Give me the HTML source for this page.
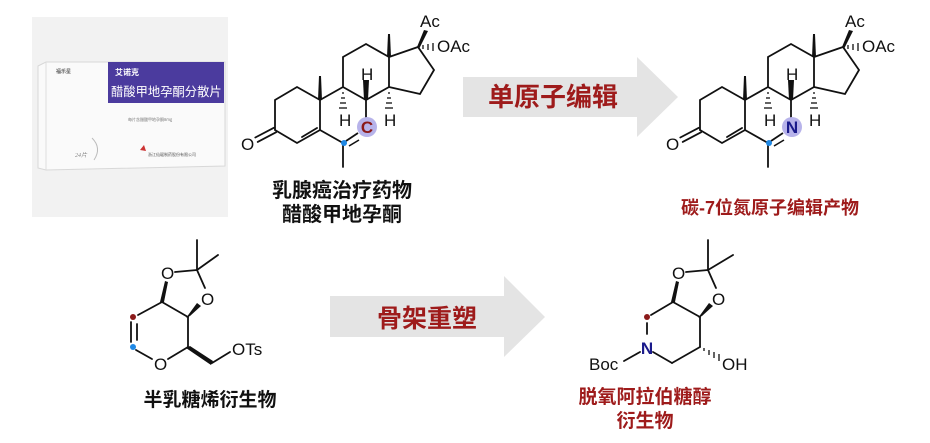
<!DOCTYPE html>
<html><head><meta charset="utf-8"><style>
html,body{margin:0;padding:0;background:#fff;}
svg{display:block;}
.cn{font-family:"Liberation Sans","Noto Sans CJK SC",sans-serif;font-weight:bold;}
.at{font-family:"Liberation Sans",sans-serif;font-size:17px;fill:#111;}
</style></head><body>
<svg width="930" height="443" viewBox="0 0 930 443" xmlns="http://www.w3.org/2000/svg">
<!-- package -->
<rect x="32" y="17" width="196" height="200" fill="#f2f2f2"/>
<polygon points="38,66 46,62 225,62 225,166 46,170 38,168" fill="#fafafa" stroke="#d8d8d8" stroke-width="1"/>
<line x1="46" y1="62" x2="46" y2="170" stroke="#ddd"/>
<rect x="108" y="62" width="116" height="41" fill="#4b3b9e"/>
<text x="115" y="75" class="cn" font-size="8" fill="#fff">艾诺克</text>
<text x="111" y="96" font-family="Liberation Sans,Noto Sans CJK SC,sans-serif" font-size="12.3" fill="#fff">醋酸甲地孕酮分散片</text>
<text x="56" y="73" class="cn" font-size="5" fill="#666">福乐星</text>
<text x="128" y="121" font-family="Noto Sans CJK SC,sans-serif" font-size="4" fill="#777">每片含醋酸甲地孕酮8mg</text>
<text x="75" y="157" font-family="Liberation Serif,serif" font-style="italic" font-size="6" fill="#888">24片</text>
<path d="M92,138 Q102,148 94,160" fill="none" stroke="#bbb" stroke-width="1"/>
<text x="148" y="156" font-family="Noto Sans CJK SC,sans-serif" font-size="4" fill="#555">浙江仙琚制药股份有限公司</text>
<path d="M140,150 l4,-5 l2,6z" fill="#c33"/>

<!-- steroid 1 -->
<g id="st" stroke="#111" stroke-width="1.8" fill="none" stroke-linecap="round">
<polyline points="275,130 275,100 297,87 320,100 343,87 366,100 389,87 389,57 366,44 343,57 343,87"/>
<polyline points="275,130 297,143 320,130 343,143"/>
<line x1="320" y1="100" x2="320" y2="130"/>
<line x1="366" y1="100" x2="366" y2="121"/>
<line x1="302" y1="137" x2="317" y2="128"/>
<line x1="273.8" y1="127.8" x2="255.3" y2="137.5"/>
<line x1="276.2" y1="132.2" x2="257.7" y2="141.9"/>
<polyline points="389,57 418,47 434,70 420,94 389,87"/>
<line x1="343" y1="143" x2="343" y2="167"/>
</g>
<g id="st2" fill="#111">
<polygon points="318,100 322,100 321,76 319,76"/>
<polygon points="387,57 391,57 390,34 388,34"/>
<polygon points="417,47 419,49 428,31 424,30"/>
<polygon points="364,100 368,100 369,80 363,80"/>
<g stroke="#111" stroke-width="1.3">
<line x1="342" y1="93" x2="344" y2="93"/><line x1="341" y1="98" x2="345" y2="98"/><line x1="340" y1="103" x2="346" y2="103"/><line x1="339" y1="108" x2="347" y2="108"/>
<line x1="388" y1="93" x2="390" y2="93"/><line x1="387" y1="98" x2="391" y2="98"/><line x1="386" y1="103" x2="392" y2="103"/><line x1="385" y1="108" x2="393" y2="108"/>
<line x1="423" y1="45" x2="423" y2="49"/><line x1="428" y1="44" x2="428" y2="50"/><line x1="433" y1="43" x2="433" y2="51"/>
</g>
</g>
<text class="at" x="241" y="150">O</text>
<text class="at" x="420" y="27">Ac</text>
<text class="at" x="437" y="52">OAc</text>
<text class="at" x="339" y="126">H</text>
<text class="at" x="361" y="80">H</text>
<text class="at" x="384" y="126">H</text>
<circle cx="367" cy="127" r="10" fill="#b7b3ea"/>
<text x="367" y="133" text-anchor="middle" class="cn" font-size="17" fill="#8b1a1a" font-family="Liberation Sans,sans-serif">C</text>
<line x1="346" y1="141" x2="358" y2="133" stroke="#111" stroke-width="1.8"/>
<line x1="349" y1="146" x2="359" y2="140" stroke="#111" stroke-width="1.6"/>
<circle cx="344" cy="143" r="3" fill="#1e88e5"/>
<text x="342" y="197" text-anchor="middle" class="cn" font-size="20" fill="#111">乳腺癌治疗药物</text>
<text x="342" y="221" text-anchor="middle" class="cn" font-size="20" fill="#111">醋酸甲地孕酮</text>

<!-- arrow 1 -->
<polygon points="463,77 637,77 637,57 678,97 637,137 637,117 463,117" fill="#e4e4e4"/>
<text x="553" y="106" text-anchor="middle" class="cn" font-size="26" fill="#9e1b1b">单原子编辑</text>

<!-- steroid 2 -->
<g transform="translate(425,0)">
<use href="#st"/><use href="#st2"/>
<text class="at" x="241" y="150">O</text>
<text class="at" x="420" y="27">Ac</text>
<text class="at" x="437" y="52">OAc</text>
<text class="at" x="339" y="126">H</text>
<text class="at" x="361" y="80">H</text>
<text class="at" x="384" y="126">H</text>
<circle cx="367" cy="127" r="10" fill="#b7b3ea"/>
<text x="367" y="133" text-anchor="middle" class="cn" font-size="17" fill="#1a1a8b" font-family="Liberation Sans,sans-serif">N</text>
<line x1="346" y1="141" x2="358" y2="133" stroke="#111" stroke-width="1.8"/>
<line x1="349" y1="146" x2="359" y2="140" stroke="#111" stroke-width="1.6"/>
<circle cx="344" cy="143" r="3" fill="#1e88e5"/>
</g>
<text x="770" y="214" text-anchor="middle" class="cn" font-size="18" fill="#9e1b1b">碳-7位氮原子编辑产物</text>

<!-- sugar left -->
<g stroke="#111" stroke-width="1.8" fill="none" stroke-linecap="round">
<line x1="162" y1="302" x2="188" y2="317"/>
<line x1="188" y1="317" x2="188" y2="347"/>
<line x1="162" y1="302" x2="138" y2="315"/>
<line x1="131" y1="322" x2="131" y2="342"/>
<line x1="137" y1="324" x2="137" y2="340"/>
<line x1="136" y1="350" x2="152" y2="359"/>
<line x1="168" y1="359" x2="188" y2="347"/>
<line x1="212" y1="363" x2="230" y2="352"/>
<line x1="175" y1="272" x2="197" y2="270"/>
<line x1="197" y1="270" x2="205" y2="288"/>
<line x1="197" y1="270" x2="197" y2="240"/>
<line x1="197" y1="270" x2="218" y2="255"/>
</g>
<polygon points="160,302 164,302 168,282 165,281" fill="#111"/>
<polygon points="186,318 190,316 201,306 197,303" fill="#111"/>
<polygon points="186,348 190,346 213,361 211,365" fill="#111"/>
<text class="at" x="161" y="279">O</text>
<text class="at" x="201" y="305">O</text>
<text class="at" x="154" y="370">O</text>
<text class="at" x="232" y="355">OTs</text>
<circle cx="133" cy="317" r="3" fill="#8b1a1a"/>
<circle cx="133" cy="347" r="3" fill="#1e88e5"/>
<text x="210" y="406" text-anchor="middle" class="cn" font-size="19" fill="#111">半乳糖烯衍生物</text>

<!-- arrow 2 -->
<polygon points="330,296 504,296 504,276 545,317 504,357 504,337 330,337" fill="#e4e4e4"/>
<text x="427" y="327" text-anchor="middle" class="cn" font-size="25" fill="#9e1b1b">骨架重塑</text>

<!-- sugar right -->
<g stroke="#111" stroke-width="1.8" fill="none" stroke-linecap="round">
<line x1="673" y1="302" x2="700" y2="317"/>
<line x1="700" y1="317" x2="700" y2="347"/>
<line x1="673" y1="302" x2="651" y2="315"/>
<line x1="647" y1="323" x2="647" y2="334"/>
<line x1="653" y1="352" x2="672" y2="363"/>
<line x1="672" y1="363" x2="700" y2="347"/>
<line x1="624" y1="361" x2="640" y2="352"/>
<line x1="686" y1="272" x2="708" y2="270"/>
<line x1="708" y1="270" x2="716" y2="288"/>
<line x1="708" y1="270" x2="708" y2="240"/>
<line x1="708" y1="270" x2="733" y2="255"/>
</g>
<polygon points="671,302 675,302 679,282 676,281" fill="#111"/>
<polygon points="698,318 702,316 713,306 709,303" fill="#111"/>
<g stroke="#111" stroke-width="1.3">
<line x1="704" y1="348" x2="704" y2="351"/><line x1="709" y1="350" x2="709" y2="355"/><line x1="714" y1="352" x2="714" y2="358"/><line x1="719" y1="354" x2="719" y2="361"/>
</g>
<text class="at" x="672" y="279">O</text>
<text class="at" x="712" y="305">O</text>
<text x="647" y="354" text-anchor="middle" font-family="Liberation Sans,sans-serif" font-size="17" font-weight="bold" fill="#1a1a8b">N</text>
<text class="at" x="589" y="370">Boc</text>
<text class="at" x="722" y="370">OH</text>
<circle cx="647" cy="317" r="3" fill="#8b1a1a"/>
<text x="645" y="403" text-anchor="middle" class="cn" font-size="19" fill="#9e1b1b">脱氧阿拉伯糖醇</text>
<text x="645" y="427" text-anchor="middle" class="cn" font-size="19" fill="#9e1b1b">衍生物</text>
</svg>
</body></html>
